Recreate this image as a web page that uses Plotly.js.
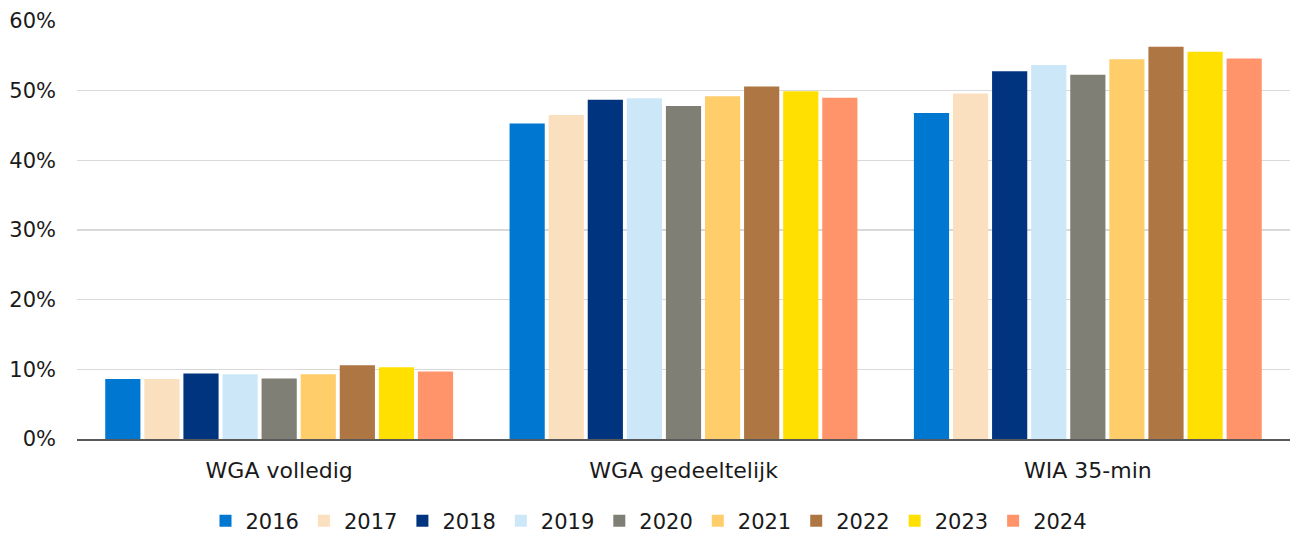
<!DOCTYPE html>
<html>
<head>
<meta charset="utf-8">
<script src="https://cdn.plot.ly/plotly-3.0.1.min.js"></script>
<style>html,body{margin:0;padding:0;background:#fff;}#chart{width:1298px;height:535px;}</style>
</head>
<body>
<div id="chart"></div>
<script>
const categories = ["WGA volledig", "WGA gedeeltelijk", "WIA 35-min"];
const years = ["2016","2017","2018","2019","2020","2021","2022","2023","2024"];
const v2016 = [0.086, 0.453, 0.468];
const v2017 = [0.086, 0.465, 0.496];
const v2018 = [0.094, 0.487, 0.528];
const v2019 = [0.093, 0.489, 0.537];
const v2020 = [0.087, 0.478, 0.523];
const v2021 = [0.093, 0.492, 0.545];
const v2022 = [0.106, 0.506, 0.563];
const v2023 = [0.103, 0.499, 0.556];
const v2024 = [0.097, 0.490, 0.546];
const series = [v2016,v2017,v2018,v2019,v2020,v2021,v2022,v2023,v2024];
const colors = ["#0077d0","#fbe0bf","#00347f","#cce8f8","#7f7f75","#ffcd69","#ad7642","#ffe000","#ff946a"];

const FONT = "'DejaVu Sans', sans-serif";
const traces = years.map((y, i) => ({
  type: "bar",
  name: y,
  x: categories,
  y: series[i],
  marker: {color: colors[i], line: {width: 0}},
  hoverinfo: "skip"
}));

const layout = {
  width: 1298, height: 535,
  margin: {l: 77, r: 8, t: 21, b: 96},
  paper_bgcolor: "#fff", plot_bgcolor: "#fff",
  barmode: "group",
  bargap: 0.13,
  bargroupgap: 0.1,
  font: {family: FONT, color: "#1a1a1a", size: 20},
  xaxis: {
    showgrid: false, showline: true, linecolor: "#595959", linewidth: 2,
    ticks: "", ticklabelstandoff: 11, tickfont: {size: 22, color: "#1a1a1a"}, automargin: false
  },
  yaxis: {
    range: [0, 0.6], dtick: 0.1, tickformat: ".0%",
    showgrid: true, gridcolor: "#d9d9d9", gridwidth: 1.3,
    zeroline: false, showline: false, ticks: "", ticklabelstandoff: 20,
    tickfont: {size: 21, color: "#1a1a1a"}, automargin: false, fixedrange: true
  },
  showlegend: true,
  legend: {
    orientation: "h", x: 0.5, xref: "container", xanchor: "center",
    y: 0.026, yref: "container", yanchor: "middle",
    font: {size: 21, color: "#1a1a1a"}, itemwidth: 30, traceorder: "normal"
  }
};
Plotly.newPlot("chart", traces, layout, {displayModeBar: false, staticPlot: true});
</script>
</body>
</html>
